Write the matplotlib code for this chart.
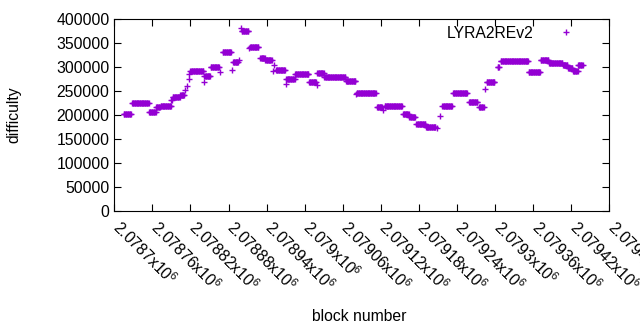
import numpy as np
import matplotlib
matplotlib.use("Agg")
import matplotlib.pyplot as plt
import matplotlib.transforms as mtransforms
from matplotlib.ticker import FuncFormatter

plt.rcParams['font.family'] = ['Liberation Sans', 'DejaVu Sans']
plt.rcParams['mathtext.fontset'] = 'custom'
plt.rcParams['mathtext.rm'] = 'Liberation Sans'
plt.rcParams['mathtext.default'] = 'regular'

# difficulty held over runs of consecutive blocks (start, end, value)
run_start = [2078715, 2078728, 2078755, 2078766, 2078773, 2078790, 2078792, 2078804,
             2078811, 2078814, 2078817, 2078818, 2078820, 2078841, 2078842, 2078852,
             2078867, 2078871, 2078885, 2078887, 2078896, 2078900, 2078901, 2078912,
             2078914, 2078930, 2078938, 2078950, 2078951, 2078955, 2078970, 2078971,
             2078985, 2079007, 2079019, 2079020, 2079031, 2079065, 2079081, 2079082,
             2079114, 2079124, 2079126, 2079155, 2079165, 2079176, 2079191, 2079209,
             2079214, 2079217, 2079234, 2079259, 2079275, 2079284, 2079287, 2079304,
             2079309, 2079353, 2079372, 2079385, 2079407, 2079415, 2079423, 2079431]
run_end = [2078726, 2078754, 2078765, 2078772, 2078789, 2078791, 2078803, 2078810,
           2078811, 2078814, 2078817, 2078818, 2078840, 2078841, 2078851, 2078865,
           2078867, 2078884, 2078885, 2078895, 2078896, 2078900, 2078911, 2078912,
           2078927, 2078937, 2078948, 2078950, 2078951, 2078969, 2078970, 2078984,
           2079006, 2079018, 2079019, 2079030, 2079064, 2079080, 2079081, 2079112,
           2079122, 2079124, 2079153, 2079164, 2079174, 2079190, 2079206, 2079209,
           2079214, 2079232, 2079256, 2079272, 2079282, 2079284, 2079299, 2079306,
           2079352, 2079371, 2079384, 2079406, 2079414, 2079422, 2079430, 2079438]
run_diff = [201000, 224000, 207000, 217000, 219500, 232000, 238000, 241000,
            251000, 261000, 275000, 285000, 292000, 269000, 281000, 299000,
            289000, 332000, 294500, 310000, 315000, 382000, 376000, 340000,
            342000, 319500, 315000, 292000, 303000, 294500, 265000, 274000,
            286000, 269500, 262000, 287000, 278500, 271600, 242500, 246600,
            216600, 209800, 219500, 200800, 194500, 180000, 174300, 173000,
            197000, 219500, 245000, 225800, 216000, 253000, 269500, 300000,
            313000, 290000, 315000, 309000, 303500, 298000, 291600, 305000]

blocks = np.concatenate([np.arange(s, e + 1) for s, e in zip(run_start, run_end)])
difficulty = np.concatenate([np.full(e - s + 1, d) for s, e, d in zip(run_start, run_end, run_diff)])

fig = plt.figure(figsize=(6.4, 3.3), dpi=100)
ax = fig.add_axes([0.1786, 0.3615, 0.7734, 0.5809])

ax.plot(blocks, difficulty, '+', color='#9400d3', ms=5, mew=1.0, label='LYRA2REv2')

ax.set_xlim(2078700, 2079480)
ax.set_ylim(0, 400000)
ax.set_xticks(np.arange(2078700, 2079481, 60))
ax.set_yticks(np.arange(0, 400001, 50000))
ax.xaxis.set_major_formatter(FuncFormatter(lambda v, p: f"{v/1e6:g}x10$^{{6}}$"))
ax.tick_params(direction='in', length=5, top=True, right=True, labelsize=11.3, color='black')
shift = mtransforms.ScaledTranslation(8 / 100, -2 / 100, fig.dpi_scale_trans)
for lab in ax.get_xticklabels():
    lab.set_rotation(-45)
    lab.set_ha('left')
    lab.set_va('top')
    lab.set_rotation_mode('anchor')
    lab.set_transform(lab.get_transform() + shift)

ax.set_xlabel('block number', fontsize=11.3)
ax.set_ylabel('difficulty', fontsize=11.3)
ax.xaxis.set_label_coords(0.494, -0.513)
ax.yaxis.set_label_coords(-0.1885, 0.5)

ax.legend(loc='upper right', frameon=False, markerfirst=False, numpoints=1,
          fontsize=11.3, borderpad=0, borderaxespad=0, handlelength=2,
          handletextpad=1.1, bbox_to_anchor=(0.945, 0.964))

fig.savefig('out.png', dpi=100)
